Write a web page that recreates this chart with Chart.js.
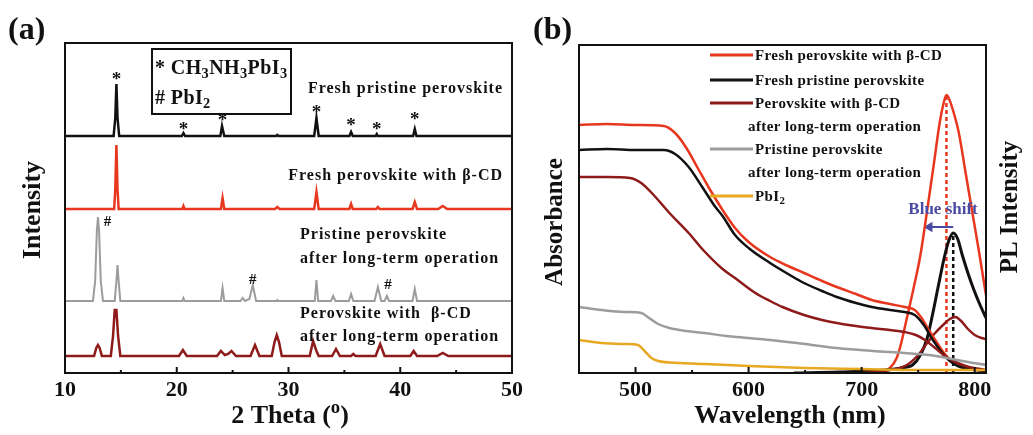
<!DOCTYPE html>
<html>
<head>
<meta charset="UTF-8">
<title>XRD and absorbance / PL</title>
<script src="https://cdn.jsdelivr.net/npm/chart.js@4.4.0/dist/chart.umd.min.js"></script>
<style>
  body { margin: 0; background: #fff; }
  #wrap { position: relative; width: 1033px; height: 435px; }
  #wrap canvas { position: absolute; left: 0; top: 0; }
</style>
</head>
<body>
<div id="wrap">
  <canvas id="xrdChart" width="1033" height="435"></canvas>
  <canvas id="specChart" width="1033" height="435"></canvas>
</div>
<script>
// ---------- (a) XRD : [2theta, intensity above the trace's own baseline] ----------
var xrdTicks = [10, 20, 30, 40, 50];
var xrdMinor = [15, 25, 35, 45];

var xrdFreshPristine = [[10,0],[14.35,0],[14.5,18],[14.6,52],[14.7,18],[14.85,0],[20.45,0],[20.6,3],[20.75,0],
  [23.9,0],[24.05,10],[24.25,0],[28.9,0],[29,1],[29.1,0],[32.3,0],[32.5,18],[32.7,0],[35.45,0],[35.6,4],[35.75,0],
  [37.8,0],[37.9,2],[38.0,0],[41.15,0],[41.3,7],[41.45,0],[50,0]];
var xrdFreshCD = [[10,0],[14.4,0],[14.5,20],[14.6,64],[14.7,20],[14.8,0],[20.5,0],[20.6,3],[20.7,0],[23.95,0],
  [24.1,11],[24.25,0],[28.8,0],[29,2],[29.2,0],[32.3,0],[32.5,17],[32.7,0],[35.45,0],[35.6,5],[35.75,0],[37.85,0],
  [38,2],[38.15,0],[41.1,0],[41.3,7],[41.5,0],[43.4,0],[43.8,3],[44.2,0],[50,0]];
var xrdAgedPristine = [[10,0],[12.5,0],[12.7,20],[12.85,70],[12.95,84],[13.05,70],[13.2,20],[13.4,0],[14.45,0],
  [14.6,20],[14.7,36],[14.8,20],[14.95,0],[20.5,0],[20.6,3],[20.7,0],[23.95,0],[24.1,13],[24.25,0],[25.7,0],
  [25.9,3],[26.1,0],[26.5,2],[26.8,16],[27.1,0],[28.9,0],[29,1],[29.1,0],[32.35,0],[32.5,21],[32.65,0],[33.8,0],
  [34.0,5],[34.2,0],[35.4,0],[35.6,7],[35.8,0],[37.7,0],[38.0,14],[38.3,0],[38.6,0],[38.8,5],[39.0,0],[41.1,0],
  [41.3,12],[41.5,0],[50,0]];
var xrdAgedCD = [[10,0],[12.6,0],[12.8,8],[12.95,11],[13.1,8],[13.3,0],[14.1,0],[14.3,20],[14.45,46],[14.6,46],
  [14.75,20],[14.95,0],[20.2,0],[20.55,6],[20.9,0],[23.6,0],[23.95,5],[24.3,1],[24.6,2],[24.9,5],[25.3,0],[26.6,0],
  [27,11],[27.4,0],[28.5,0],[28.75,14],[28.95,21],[29.15,14],[29.4,0],[31.9,0],[32.2,15],[32.5,5],[32.7,0],[33.9,0],
  [34.25,7],[34.6,0],[35.6,0],[35.8,2],[36,0],[37.8,0],[38.2,12],[38.6,0],[40.9,0],[41.2,5],[41.5,0],[43.3,0],
  [43.8,3],[44.3,0],[50,0]];

// peak markers: [2theta, height above trace baseline]
var starMarks = [[14.6,60],[20.6,10],[24.1,19],[32.5,27],[35.6,14],[37.9,10],[41.3,20]];
var hashMarks = [[13.8,79],[26.8,21],[38.9,16]];

// ---------- (b) absorbance and PL : [wavelength nm, signal] ----------
var specTicks = [500, 600, 700, 800];
var specMinor = [550, 650, 750];

var absFreshCD = [[450,248],[475,249],[500,248],[525,247],[535,240],[545,225],[555,205],[565,185],[577,163],
  [588,145],[600,131],[619,116],[635,107],[649,100],[665,92],[678,86],[695,79],[709,73],[725,69],[738,66],
  [747,63],[753,55],[760,42],[768,28],[775,17],[782,10],[792,5],[810,2]];
var absFreshPristine = [[450,223],[475,224],[500,223],[525,223],[535,219],[547,206],[559,186],[570,167],[577,157],
  [588,138],[600,125],[619,110],[635,99],[649,90],[665,82],[678,76],[695,70],[709,66],[725,63],[738,61],
  [747,58],[755,48],[763,33],[770,22],[777,13],[785,7],[795,4],[810,2]];
var absAgedCD = [[450,196],[475,196],[495,195],[505,190],[516,178],[530,160],[547,140],[559,124],[577,104],
  [588,95],[606,80],[619,72],[630,66],[649,58],[665,53],[678,50],[695,47],[709,45],[725,43],[738,41],
  [748,38],[756,33],[765,25],[775,16],[785,10],[795,6],[810,3]];
var absAgedPristine = [[450,66],[470,63],[490,61],[505,60],[512,55],[520,49],[530,45],[545,42],[561,40],[580,37],
  [600,35],[619,33],[650,29],[678,25],[710,22],[738,20],[760,18],[780,14],[799,10],[810,8]];
var absPbI2 = [[450,33],[470,30],[490,29],[502,28],[508,22],[514,15],[520,12],[540,10],[561,9],[600,7],
  [650,5],[700,4],[750,3],[810,3]];

var plFreshCD = [[700,0],[720,2],[725,5],[731,15],[735,30],[740,55],[746,85],[752,118],[758,163],[764,210],
  [769,250],[773,272],[775,278],[777,275],[781,262],[786,240],[792,200],[798,160],[804,120],[810,78]];
var plFreshPristine = [[640,0],[680,1],[720,3],[740,6],[745,8],[752,18],[758,35],[763,60],[768,88],[773,115],
  [777,132],[781,140],[785,134],[789,118],[794,100],[799,84],[804,70],[810,55]];
var plAgedCD = [[700,0],[720,2],[740,8],[750,18],[758,30],[765,40],[772,48],[778,54],[783,56],[788,52],
  [794,44],[800,38],[806,35],[810,34]];

var peakCD = 775, peakPristine = 781;   // PL maxima (nm)
var blueShift = [[781,146],[760,146]];

var specLabels = [
  [[['Fresh perovskite with β-CD']]],
  [[['Fresh pristine perovskite']]],
  [[['Perovskite with β-CD']], [['after long-term operation']]],
  [[['Pristine perovskite']], [['after long-term operation']]],
  [[['PbI'], ['2', 'sub']]]
];

// ---------- styles ----------
var red = '#e8371f', black = '#111111', dark = '#8e1a1a', gray = '#9c9c9c', gold = '#e8a821', blue = '#4b4ba3';
var serif = '"Liberation Serif", "Times New Roman", serif';
function font(sz) { return 'bold ' + sz + 'px ' + serif; }

function drawRich(ctx, x, cy, parts, size, align, color, spacing) {
  var base = cy + size * 0.33, w = 0;
  ctx.letterSpacing = (spacing || 0) + 'px';
  parts.forEach(function (p) { ctx.font = font(p[1] ? size * 0.72 : size); w += ctx.measureText(p[0]).width; });
  var cx = align === 'right' ? x - w : align === 'center' ? x - w / 2 : x;
  ctx.fillStyle = color || black;
  ctx.textAlign = 'left';
  ctx.textBaseline = 'alphabetic';
  parts.forEach(function (p) {
    ctx.font = font(p[1] ? size * 0.72 : size);
    var dy = p[1] === 'sub' ? size * 0.2 : p[1] === 'sup' ? -size * 0.38 : 0;
    ctx.fillText(p[0], cx, base + dy);
    cx += ctx.measureText(p[0]).width;
  });
  ctx.letterSpacing = '0px';
}

function drawRotated(ctx, text, cx, cy, size) {
  ctx.save();
  ctx.translate(cx, cy);
  ctx.rotate(-Math.PI / 2);
  ctx.font = font(size);
  ctx.fillStyle = black;
  ctx.textAlign = 'center';
  ctx.textBaseline = 'middle';
  ctx.fillText(text, 0, 0);
  ctx.restore();
}

function frameAndTicks(chart, majors, minors) {
  var ctx = chart.ctx, a = chart.chartArea, sx = chart.scales.x;
  ctx.save();
  ctx.strokeStyle = black;
  ctx.lineWidth = 2;
  ctx.strokeRect(a.left, a.top, a.right - a.left, a.bottom - a.top);
  ctx.beginPath();
  majors.forEach(function (v) { var p = sx.getPixelForValue(v); ctx.moveTo(p, a.bottom); ctx.lineTo(p, a.bottom - 6); });
  minors.forEach(function (v) { var p = sx.getPixelForValue(v); ctx.moveTo(p, a.bottom); ctx.lineTo(p, a.bottom - 3); });
  ctx.stroke();
  ctx.restore();
}

function xScale(min, max, ticks) {
  return {
    type: 'linear', min: min, max: max,
    grid: { display: false, drawTicks: false },
    border: { display: false },
    afterBuildTicks: function (s) { s.ticks = ticks.map(function (v) { return { value: v }; }); },
    afterFit: function (s) { s.height = 30; },
    ticks: { color: black, font: { size: 22, weight: 'bold', family: serif }, padding: 4, maxRotation: 0, autoSkip: false }
  };
}

// ---------- chart (a) ----------
var xrdSeries = [xrdFreshPristine, xrdFreshCD, xrdAgedPristine, xrdAgedCD];
var xrdColors = [black, red, gray, dark];
var xrdWidths = [2.5, 2.5, 2, 2.5];
var xrdOffsets = [237, 164, 72, 17];

var xrdPlugin = {
  id: 'xrdDecor',
  afterDatasetsDraw: function (chart) {
    var ctx = chart.ctx, sx = chart.scales.x, sy = chart.scales.y;
    frameAndTicks(chart, xrdTicks, xrdMinor);
    ctx.save();
    ctx.font = font(19);
    ctx.fillStyle = black;
    ctx.textAlign = 'center';
    ctx.textBaseline = 'middle';
    starMarks.forEach(function (m) {
      ctx.fillText('*', sx.getPixelForValue(m[0]), sy.getPixelForValue(m[1] + xrdOffsets[0]) + 4);
    });
    ctx.font = font(15);
    hashMarks.forEach(function (m) {
      ctx.fillText('#', sx.getPixelForValue(m[0]), sy.getPixelForValue(m[1] + xrdOffsets[2]));
    });
    // trace labels
    drawRich(ctx, 503, 88, [['Fresh pristine perovskite']], 16, 'right', black, 1);
    drawRich(ctx, 503, 175, [['Fresh perovskite with β-CD']], 16, 'right', black, 1);
    drawRich(ctx, 300, 234, [['Pristine perovskite']], 16, 'left', black, 1);
    drawRich(ctx, 300, 258, [['after long-term operation']], 16, 'left', black, 1);
    drawRich(ctx, 300, 313, [['Perovskite with  β-CD']], 16, 'left', black, 1);
    drawRich(ctx, 300, 336, [['after long-term operation']], 16, 'left', black, 1);
    // phase key
    ctx.strokeStyle = black;
    ctx.lineWidth = 2;
    ctx.fillStyle = '#fff';
    ctx.fillRect(152, 49, 139, 65);
    ctx.strokeRect(152, 49, 139, 65);
    drawRich(ctx, 155, 67, [['* CH'], ['3', 'sub'], ['NH'], ['3', 'sub'], ['PbI'], ['3', 'sub']], 20, 'left', black, 0.4);
    drawRich(ctx, 155, 97, [['# PbI'], ['2', 'sub']], 20, 'left', black, 0.4);
    // titles
    drawRich(ctx, 8, 28, [['(a)']], 32, 'left');
    drawRotated(ctx, 'Intensity', 33, 210, 26);
    drawRich(ctx, 290, 414, [['2 Theta ('], ['o', 'sup'], [')']], 26, 'center');
    ctx.restore();
  }
};

new Chart(document.getElementById('xrdChart'), {
  type: 'line',
  data: {
    datasets: xrdSeries.map(function (s, i) {
      return {
        data: s.map(function (p) { return { x: p[0], y: p[1] + xrdOffsets[i] }; }),
        borderColor: xrdColors[i], borderWidth: xrdWidths[i], pointRadius: 0, tension: 0
      };
    })
  },
  options: {
    responsive: false, animation: false, devicePixelRatio: 1,
    layout: { padding: { left: 65, right: 1033 - 512, top: 43, bottom: 32 } },
    plugins: { legend: { display: false }, tooltip: { enabled: false } },
    scales: { x: xScale(10, 50, xrdTicks), y: { display: false, min: 0, max: 330 } }
  },
  plugins: [xrdPlugin]
});

// ---------- chart (b) ----------
var specColors = [red, black, dark, gray, gold];

var specPlugin = {
  id: 'specDecor',
  afterDatasetsDraw: function (chart) {
    var ctx = chart.ctx, sx = chart.scales.x, sy = chart.scales.y;
    frameAndTicks(chart, specTicks, specMinor);
    ctx.save();
    // legend
    var rows = [55, 80, 103, 149, 196];
    specLabels.forEach(function (lab, i) {
      ctx.strokeStyle = specColors[i];
      ctx.lineWidth = 3;
      ctx.beginPath();
      ctx.moveTo(710, rows[i]);
      ctx.lineTo(753, rows[i]);
      ctx.stroke();
      lab.forEach(function (line, j) {
        drawRich(ctx, j ? 748 : 755, rows[i] + j * 23.5, line, 15, 'left', black, 0.4);
      });
    });
    drawRich(ctx, sx.getPixelForValue(772), sy.getPixelForValue(165), [['Blue shift']], 17, 'center', blue);
    drawRich(ctx, 533, 28, [['(b)']], 32, 'left');
    drawRotated(ctx, 'Absorbance', 556, 222, 25);
    drawRotated(ctx, 'PL Intensity', 1011, 207, 25);
    drawRich(ctx, 790, 414, [['Wavelength (nm)']], 26, 'center');
    ctx.restore();
  }
};

function line(data, color, width, extra) {
  var d = { data: data.map(function (p) { return { x: p[0], y: p[1] }; }), borderColor: color, borderWidth: width,
    pointRadius: 0, cubicInterpolationMode: 'monotone' };
  for (var k in extra || {}) d[k] = extra[k];
  return d;
}

new Chart(document.getElementById('specChart'), {
  type: 'line',
  data: {
    datasets: [
      line(absPbI2, gold, 2.5),
      line(absAgedPristine, gray, 2.5),
      line(absAgedCD, dark, 2.5),
      line(absFreshPristine, black, 2.5),
      line(absFreshCD, red, 2.5),
      line(plAgedCD, dark, 2.5),
      line(plFreshPristine, black, 3),
      line(plFreshCD, red, 2.5),
      line([[peakCD, 0], [peakCD, 278]], red, 2.5, { borderDash: [4, 3], cubicInterpolationMode: 'default' }),
      line([[peakPristine, 0], [peakPristine, 140]], black, 2.5, { borderDash: [4, 3], cubicInterpolationMode: 'default' }),
      line(blueShift, blue, 2, { cubicInterpolationMode: 'default', pointRadius: [0, 4], pointStyle: 'triangle',
        pointRotation: [0, -90], pointBackgroundColor: blue, pointBorderColor: blue })
    ]
  },
  options: {
    responsive: false, animation: false, devicePixelRatio: 1,
    layout: { padding: { left: 579, right: 1033 - 986, top: 45, bottom: 32 } },
    plugins: { legend: { display: false }, tooltip: { enabled: false } },
    scales: { x: xScale(450, 810, specTicks), y: { display: false, min: 0, max: 328 } }
  },
  plugins: [specPlugin]
});
</script>
</body>
</html>
